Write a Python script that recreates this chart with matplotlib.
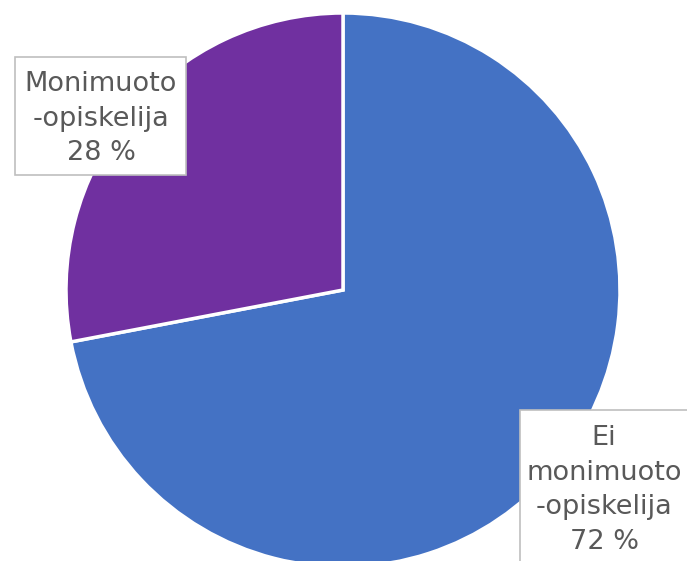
import matplotlib
matplotlib.use("Agg")
import matplotlib.pyplot as plt
from matplotlib.patches import Rectangle

categories = ["Ei\nmonimuoto\n-opiskelija", "Monimuoto\n-opiskelija"]
values = [72, 28]
colors = ["#4472C4", "#7030A0"]

W, H = 687, 561
fig = plt.figure(figsize=(W / 100, H / 100), dpi=100)
ax = fig.add_axes([0, 0, 1, 1])

cx, cy, r = 343, H - 290, 277
ax.pie(values, colors=colors, startangle=90, counterclock=False,
       center=(cx, cy), radius=r, frame=True,
       wedgeprops=dict(edgecolor="white", linewidth=2.5))
ax.set_xlim(0, W)
ax.set_ylim(0, H)
ax.set_aspect("equal")
ax.axis("off")

# label boxes (pixel layout)
boxes = [
    (520, H - 600, 175, 190, 604, H - 490),  # Ei monimuoto
    (15, H - 175, 171, 118, 101, H - 118.5),   # Monimuoto
]
for i, (x0, y0, w, h, tx, ty) in enumerate(boxes):
    ax.add_patch(Rectangle((x0, y0), w, h, facecolor="white",
                           edgecolor="#BFBFBF", linewidth=1.2, zorder=5))
    ax.text(tx, ty, f"{categories[i]}\n{values[i]} %", ha="center", va="center",
            fontsize=19.5, color="#595959", linespacing=1.42, zorder=6,
            family="DejaVu Sans")

fig.savefig("out.png", dpi=100)
